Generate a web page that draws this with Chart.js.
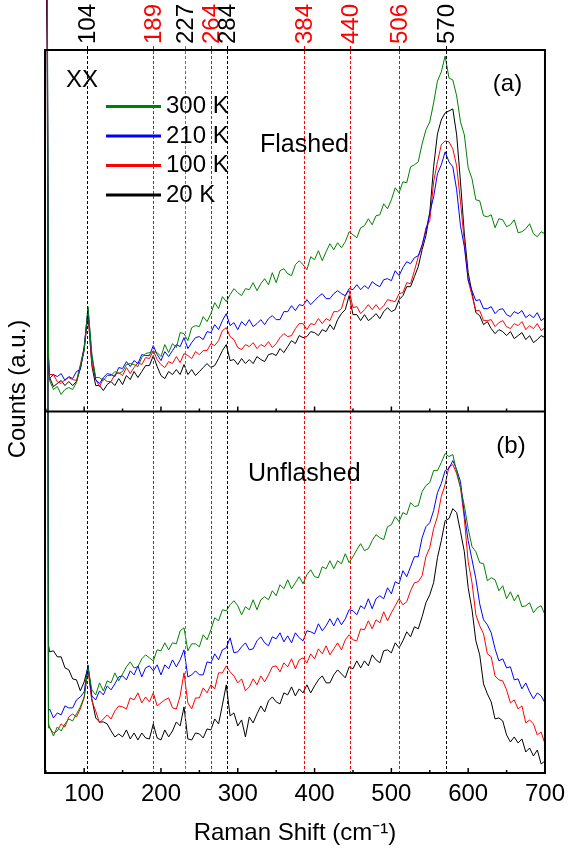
<!DOCTYPE html>
<html>
<head>
<meta charset="utf-8">
<script src="https://cdn.jsdelivr.net/npm/chart.js@4/dist/chart.umd.min.js"></script>
<style>
html,body{margin:0;padding:0;background:#ffffff;}
canvas{display:block;}
</style>
</head>
<body>
<canvas id="c" width="572" height="849"></canvas>
<script>
// ---------- data ----------
const ramanShift = [49, 50.5, 52, 53.5,
  55,60,65,70,75,80,85,90,95,100,
  105,110,115,120,125,130,135,140,145,150,
  155,160,165,170,175,180,185,190,195,200,
  205,210,215,220,225,230,235,240,245,250,
  255,260,265,270,275,280,285,290,295,300,
  305,310,315,320,325,330,335,340,345,350,
  355,360,365,370,375,380,385,390,395,400,
  405,410,415,420,425,430,435,440,445,450,
  455,460,465,470,475,480,485,490,495,500,
  505,510,515,520,525,530,535,540,545,550,
  555,560,565,570,575,580,585,590,595,600,
  605,610,615,620,625,630,635,640,645,650,
  655,660,665,670,675,680,685,690,695,700];

const seriesLabels = ['300 K', '210 K', '100 K', '20 K'];
const seriesColors = ['#008000', '#0000ff', '#ff0000', '#000000'];

// panel (a) Flashed
const flashed300K = [450, 450, 450, 60,
  31, 22, 25, 17, 22, 24, 22, 29, 45, 62,
  105, 57, 34, 34, 31, 36, 36, 40, 38, 40,
  47, 48, 47, 45, 54, 58, 59, 60, 59, 55,
  67, 59, 68, 64, 79, 78, 71, 84, 86, 85,
  95, 90, 98, 109, 103, 115, 110, 117, 123, 119,
  116, 123, 122, 129, 121, 128, 133, 127, 139, 129,
  141, 143, 138, 136, 147, 151, 147, 142, 155, 152,
  161, 151, 160, 168, 162, 169, 164, 170, 180, 177,
  174, 184, 186, 193, 187, 196, 197, 208, 203, 212,
  224, 219, 230, 229, 245, 247, 250, 268, 282, 290,
  309, 331, 340, 356, 334, 332, 316, 290, 277, 244,
  233, 212, 211, 196, 195, 197, 184, 193, 192, 185,
  187, 192, 179, 180, 183, 188, 178, 175, 180, 178];
const flashed210K = [450, 450, 420, 55,
  33, 37, 35, 38, 31, 35, 33, 40, 42, 65,
  103, 56, 32, 28, 34, 38, 37, 35, 44, 43,
  50, 45, 51, 48, 57, 56, 56, 66, 57, 51,
  60, 55, 61, 67, 65, 74, 63, 69, 74, 75,
  72, 80, 79, 87, 82, 91, 98, 86, 89, 82,
  90, 86, 92, 85, 88, 92, 87, 93, 96, 92,
  92, 100, 100, 106, 101, 107, 106, 112, 107, 111,
  115, 118, 113, 113, 118, 121, 118, 116, 123, 122,
  127, 122, 126, 123, 130, 127, 125, 132, 133, 131,
  141, 136, 144, 150, 148, 154, 156, 167, 181, 199,
  215, 238, 247, 260, 250, 245, 222, 186, 165, 132,
  121, 111, 112, 103, 103, 105, 98, 102, 103, 97,
  95, 100, 98, 101, 94, 97, 94, 99, 91, 94];
const flashed100K = [450, 450, 400, 50,
  37, 37, 30, 28, 32, 34, 32, 31, 47, 64,
  100, 48, 32, 25, 33, 30, 30, 37, 39, 36,
  44, 38, 44, 49, 47, 54, 53, 61, 52, 47,
  44, 50, 48, 55, 49, 58, 56, 53, 60, 57,
  61, 61, 68, 66, 71, 81, 84, 75, 72, 64,
  62, 67, 65, 69, 63, 67, 65, 70, 64, 68,
  74, 78, 75, 76, 83, 88, 88, 82, 88, 87,
  93, 88, 93, 91, 100, 100, 103, 116, 121, 104,
  105, 98, 102, 107, 102, 107, 102, 106, 112, 111,
  110, 118, 119, 129, 128, 141, 155, 165, 184, 191,
  230, 250, 267, 271, 270, 263, 246, 210, 170, 131,
  116, 101, 101, 91, 91, 92, 85, 89, 91, 85,
  83, 88, 86, 90, 82, 86, 83, 88, 81, 84];
const flashed20K = [450, 450, 380, 45,
  34, 25, 28, 31, 26, 30, 26, 30, 43, 61,
  98, 46, 26, 26, 21, 27, 30, 26, 33, 27,
  36, 32, 40, 34, 40, 46, 46, 56, 45, 36,
  33, 40, 37, 42, 37, 47, 37, 42, 36, 40,
  44, 48, 44, 46, 53, 61, 67, 51, 52, 47,
  53, 48, 52, 48, 55, 52, 50, 57, 58, 56,
  63, 59, 65, 71, 68, 76, 74, 75, 80, 79,
  76, 82, 80, 87, 82, 92, 98, 102, 116, 97,
  97, 91, 97, 91, 94, 98, 93, 100, 104, 100,
  102, 112, 116, 125, 125, 135, 145, 162, 176, 199,
  245, 278, 292, 299, 301, 303, 277, 230, 178, 139,
  119, 99, 96, 87, 90, 83, 78, 82, 80, 76,
  80, 73, 76, 79, 72, 76, 69, 72, 76, 74];

// panel (b) Unflashed
const unflashed300K = [800, 800, 780, 45,
  46, 37, 46, 42, 49, 54, 52, 59, 66, 76,
  105, 83, 78, 90, 82, 92, 90, 100, 92, 99,
  106, 111, 105, 106, 114, 118, 115, 112, 123, 122,
  130, 123, 130, 129, 142, 145, 122, 129, 129, 126,
  138, 133, 143, 155, 152, 163, 162, 168, 172, 167,
  158, 166, 163, 173, 163, 173, 176, 173, 182, 177,
  188, 184, 193, 184, 190, 196, 189, 198, 203, 196,
  195, 206, 204, 212, 204, 212, 209, 219, 210, 216,
  223, 229, 222, 224, 232, 238, 235, 233, 246, 248,
  256, 251, 260, 258, 270, 266, 267, 281, 287, 290,
  302, 302, 310, 319, 316, 318, 301, 285, 267, 244,
  226, 221, 210, 209, 192, 195, 193, 182, 187, 174,
  181, 172, 178, 166, 167, 170, 160, 165, 167, 158];
const unflashed210K = [800, 800, 760, 62,
  64, 55, 60, 58, 67, 65, 65, 73, 76, 81,
  108, 77, 73, 82, 78, 87, 83, 89, 96, 97,
  93, 102, 98, 107, 96, 105, 107, 102, 108, 98,
  108, 104, 113, 106, 113, 123, 96, 98, 102, 98,
  98, 111, 110, 119, 113, 123, 125, 135, 120, 121,
  126, 130, 123, 124, 132, 136, 130, 127, 136, 134,
  140, 131, 137, 130, 140, 135, 132, 142, 141, 139,
  149, 142, 147, 154, 147, 155, 148, 154, 163, 162,
  158, 167, 164, 174, 164, 174, 177, 174, 185, 179,
  191, 189, 202, 196, 206, 216, 216, 235, 246, 250,
  262, 280, 289, 302, 304, 312, 303, 291, 259, 232,
  213, 194, 169, 153, 148, 140, 124, 112, 114, 105,
  106, 93, 94, 84, 90, 81, 74, 80, 77, 70];
const unflashed100K = [800, 800, 740, 50,
  45, 40, 42, 49, 46, 56, 59, 56, 64, 75,
  103, 72, 62, 50, 54, 58, 54, 62, 67, 66,
  64, 75, 73, 80, 70, 76, 71, 80, 67, 70,
  73, 75, 65, 64, 77, 100, 70, 64, 75, 75,
  85, 80, 88, 84, 100, 100, 107, 101, 97, 90,
  94, 82, 86, 94, 88, 97, 91, 98, 106, 107,
  101, 110, 106, 114, 104, 113, 115, 110, 119, 114,
  124, 119, 127, 118, 124, 130, 123, 133, 138, 133,
  132, 144, 143, 152, 144, 153, 150, 161, 152, 160,
  167, 174, 168, 171, 182, 190, 191, 197, 216, 225,
  244, 256, 276, 288, 306, 308, 299, 285, 254, 211,
  190, 158, 147, 139, 119, 116, 97, 93, 92, 83,
  70, 73, 64, 67, 50, 53, 49, 38, 41, 29];
const unflashed20K = [800, 800, 720, 128,
  121, 122, 116, 116, 105, 103, 94, 93, 82, 91,
  106, 74, 55, 51, 51, 49, 42, 36, 39, 36,
  43, 34, 40, 33, 40, 35, 34, 49, 35, 33,
  43, 36, 42, 51, 47, 66, 34, 33, 40, 39,
  35, 44, 43, 54, 49, 68, 88, 57, 60, 47,
  53, 36, 56, 50, 59, 67, 61, 72, 76, 71,
  69, 80, 78, 86, 77, 84, 80, 88, 80, 87,
  93, 97, 90, 90, 98, 103, 99, 95, 106, 104,
  112, 105, 112, 107, 118, 113, 110, 122, 123, 120,
  130, 125, 132, 141, 136, 146, 144, 156, 170, 178,
  190, 215, 232, 252, 254, 264, 260, 241, 221, 185,
  163, 132, 118, 89, 79, 71, 54, 55, 52, 38,
  31, 36, 30, 34, 21, 25, 17, 23, 9, 12];

// marked peaks
const peakLabels = ['104', '189', '227', '264', '284', '384', '440', '506', '570'];
const peakPositions = [104, 189, 230.7, 265, 285.7, 386.7, 445.5, 509.3, 570.5];
const peakLabelColors = ['#000000', '#ff0000', '#000000', '#ff0000', '#000000', '#ff0000', '#ff0000', '#ff0000', '#000000'];
const peakLineColors = ['#000000', '#ff0000', '#707070', '#ff0000', '#000000', '#ff0000', '#ff0000', '#ff0000', '#000000'];

// axis ticks
const xMajorTicks = [100, 200, 300, 400, 500, 600, 700];
const xMinorTicks = [50, 150, 250, 350, 450, 550, 650];

// ---------- drawing ----------
const FONT = "'Liberation Sans', Arial, Helvetica, sans-serif";
Chart.defaults.font.family = FONT;
Chart.defaults.color = '#000';

function pts(vals) { return ramanShift.map((x, i) => ({ x: x, y: vals[i] })); }

const panelA = [flashed300K, flashed210K, flashed100K, flashed20K];
const panelB = [unflashed300K, unflashed210K, unflashed100K, unflashed20K];
const datasets = [];
panelA.forEach((vals, i) => datasets.push({
  label: seriesLabels[i], data: pts(vals), yAxisID: 'yA', xAxisID: 'x',
  borderColor: seriesColors[i], backgroundColor: seriesColors[i],
  borderWidth: 1, pointRadius: 0, tension: 0, clip: false
}));
panelB.forEach((vals, i) => datasets.push({
  label: seriesLabels[i], data: pts(vals), yAxisID: 'yB', xAxisID: 'x',
  borderColor: seriesColors[i], backgroundColor: seriesColors[i],
  borderWidth: 1, pointRadius: 0, tension: 0, clip: false
}));

const decor = {
  id: 'decor',
  afterDatasetsDraw(chart) {
    const { ctx, chartArea: a, scales } = chart;
    const x = scales.x;
    ctx.save();
    ctx.lineWidth = 1;
    ctx.setLineDash([3, 2]);
    peakPositions.forEach((v, i) => {
      const px = Math.round(x.getPixelForValue(v)) + 0.5;
      ctx.strokeStyle = peakLineColors[i];
      ctx.beginPath();
      ctx.moveTo(px, a.top - 4);
      ctx.lineTo(px, a.bottom);
      ctx.stroke();
    });
    ctx.setLineDash([]);
    ctx.font = '24px ' + FONT;
    ctx.textAlign = 'left';
    ctx.textBaseline = 'middle';
    peakPositions.forEach((v, i) => {
      const px = x.getPixelForValue(v) + 1.5;
      ctx.save();
      ctx.translate(px, a.top - 6);
      ctx.rotate(-Math.PI / 2);
      ctx.fillStyle = peakLabelColors[i];
      ctx.fillText(peakLabels[i], 0, 0);
      ctx.restore();
    });
    ctx.restore();
  },
  afterDraw(chart) {
    const { ctx, chartArea: a, scales } = chart;
    const x = scales.x;
    const mid = scales.yA.bottom;
    ctx.save();
    ctx.strokeStyle = '#000';
    ctx.lineWidth = 1.5;
    [mid, a.bottom].forEach(yb => {
      xMajorTicks.forEach(v => {
        const px = x.getPixelForValue(v);
        ctx.beginPath(); ctx.moveTo(px, yb); ctx.lineTo(px, yb - 5); ctx.stroke();
      });
      xMinorTicks.forEach(v => {
        const px = x.getPixelForValue(v);
        ctx.beginPath(); ctx.moveTo(px, yb); ctx.lineTo(px, yb - 3); ctx.stroke();
      });
    });
    ctx.lineWidth = 2;
    ctx.strokeRect(a.left, a.top, a.right - a.left, a.bottom - a.top);
    ctx.beginPath(); ctx.moveTo(a.left, mid); ctx.lineTo(a.right, mid); ctx.stroke();

    ctx.font = '24px ' + FONT;
    ctx.fillStyle = '#000';
    ctx.textAlign = 'left';
    ctx.textBaseline = 'middle';
    const legY = [106.5, 136, 165.5, 195];
    seriesLabels.forEach((lab, i) => {
      ctx.strokeStyle = seriesColors[i];
      ctx.lineWidth = 3;
      ctx.beginPath(); ctx.moveTo(106, legY[i]); ctx.lineTo(161, legY[i]); ctx.stroke();
      ctx.fillText(lab, 166, legY[i]);
    });

    ctx.fillText('XX', 66, 80);
    ctx.font = '25px ' + FONT;
    ctx.fillText('Flashed', 260, 145);
    ctx.fillText('Unflashed', 248, 474);
    ctx.font = '24px ' + FONT;
    ctx.textAlign = 'center';
    ctx.fillText('(a)', 507.5, 84);
    ctx.fillText('(b)', 511, 446);

    ctx.save();
    ctx.translate(18.5, 389);
    ctx.rotate(-Math.PI / 2);
    ctx.fillText('Counts (a.u.)', 0, 0);
    ctx.restore();
    ctx.restore();
  }
};

const hiddenY = (max) => ({
  type: 'linear', position: 'left', stack: 'panels', stackWeight: 1,
  min: 0, max: max, display: true,
  ticks: { display: false },
  grid: { display: false, drawTicks: false },
  border: { display: false },
  afterFit: (s) => { s.width = 45; }
});

new Chart(document.getElementById('c'), {
  type: 'line',
  data: { datasets: datasets },
  options: {
    responsive: false,
    animation: false,
    devicePixelRatio: 1,
    parsing: false,
    layout: { padding: { top: 50, right: 21.5, left: 0, bottom: 0 } },
    plugins: { legend: { display: false }, tooltip: { enabled: false } },
    scales: {
      x: {
        type: 'linear', position: 'bottom', min: 49, max: 700, bounds: 'data',
        afterBuildTicks: (s) => { s.ticks = xMajorTicks.map(v => ({ value: v })); },
        ticks: { autoSkip: false, maxRotation: 0, padding: 7, color: '#000',
                 font: { size: 24, family: FONT }, callback: (v) => String(v) },
        grid: { display: false, drawTicks: false },
        border: { display: false },
        title: { display: true, text: 'Raman Shift (cm\u207B\u00B9)', color: '#000',
                 font: { size: 24, family: FONT }, padding: { top: 0, bottom: 1 } },
        afterFit: (s) => { s.height = 76; }
      },
      yB: hiddenY(361),
      yA: hiddenY(362)
    }
  },
  plugins: [decor]
});
</script>
</body>
</html>
